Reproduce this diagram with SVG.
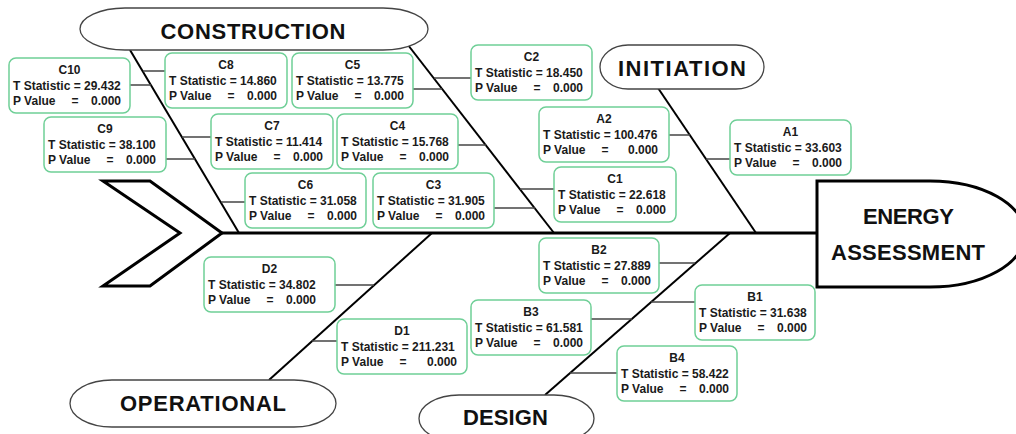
<svg xmlns="http://www.w3.org/2000/svg" width="1016" height="434" viewBox="0 0 1016 434">
<style>
.bone{stroke:#000;stroke-width:2;fill:none}
.tick{stroke:#444;stroke-width:1.5;fill:none}
.box{fill:#fff;stroke:#6fcf97;stroke-width:1.5}
.cat{fill:#fff;stroke:#444;stroke-width:1.3}
.big{font-family:"Liberation Sans",Arial,sans-serif;font-weight:bold;font-size:22px;fill:#111;text-anchor:middle}
.t{font-family:"Liberation Sans",Arial,sans-serif;font-weight:bold;font-size:12px;fill:#1a1a1a}
.m{text-anchor:middle}
.e{text-anchor:end}
</style>
<rect width="1016" height="434" fill="#fff"/>
<g id="connectors">
<line class="bone" x1="130" y1="50" x2="239" y2="233"/>
<line class="bone" x1="408" y1="45" x2="554" y2="233"/>
<line class="bone" x1="658" y1="88" x2="756" y2="233"/>
<line class="bone" x1="269" y1="380" x2="432" y2="233"/>
<line class="bone" x1="545" y1="395" x2="730" y2="233"/>
<line x1="222" y1="233" x2="817" y2="233" stroke="#000" stroke-width="3"/>
<line class="tick" x1="130" y1="85" x2="151" y2="85"/>
<line class="tick" x1="143" y1="71" x2="165" y2="71"/>
<line class="tick" x1="166" y1="159" x2="195" y2="159"/>
<line class="tick" x1="182" y1="137" x2="211" y2="137"/>
<line class="tick" x1="221" y1="202" x2="245" y2="202"/>
<line class="tick" x1="413" y1="89" x2="442" y2="89"/>
<line class="tick" x1="434" y1="78" x2="471" y2="78"/>
<line class="tick" x1="458" y1="145" x2="486" y2="145"/>
<line class="tick" x1="520" y1="189" x2="554" y2="189"/>
<line class="tick" x1="494" y1="208" x2="535" y2="208"/>
<line class="tick" x1="669" y1="135" x2="690" y2="135"/>
<line class="tick" x1="706" y1="159" x2="730" y2="159"/>
<line class="tick" x1="335" y1="285" x2="374" y2="285"/>
<line class="tick" x1="312" y1="341" x2="337" y2="341"/>
<line class="tick" x1="659" y1="263" x2="695" y2="263"/>
<line class="tick" x1="591" y1="319" x2="632" y2="319"/>
<line class="tick" x1="651" y1="302" x2="695" y2="302"/>
<line class="tick" x1="570" y1="373" x2="617" y2="373"/>
</g>
<g id="tail">
<polygon points="103,181 150,181 222,233 150,286 103,286 180,233" fill="#fff" stroke="#000" stroke-width="3" stroke-linejoin="miter"/>
</g>
<g id="head">
<path d="M817,181 H930 A95,53 0 0 1 930,287 H817 Z" fill="#fff" stroke="#000" stroke-width="3"/>
<text class="big" x="908.5" y="224" textLength="91">ENERGY</text>
<text class="big" x="908" y="260" textLength="154">ASSESSMENT</text>
</g>
<g id="construction">
<rect class="cat" x="80" y="8" width="348" height="42" rx="45" ry="21"/>
<text class="big" x="253" y="39" textLength="185">CONSTRUCTION</text>
</g>
<g id="initiation">
<rect class="cat" x="600" y="45" width="164" height="44" rx="28" ry="22"/>
<text class="big" x="682" y="76" textLength="128">INITIATION</text>
</g>
<g id="operational">
<rect class="cat" x="70" y="380" width="266" height="47" rx="42" ry="23.5"/>
<text class="big" x="203" y="411" textLength="166">OPERATIONAL</text>
</g>
<g id="design">
<rect class="cat" x="419" y="395" width="175" height="47" rx="40" ry="23.5"/>
<text class="big" x="505.5" y="425" textLength="85">DESIGN</text>
</g>
<g id="C10"><rect class="box" x="9" y="58" width="121" height="55" rx="7"/><text class="t m" x="69.5" y="74">C10</text><text class="t" x="13" y="89.5">T Statistic = 29.432</text><text class="t" x="13" y="104.5">P Value</text><text class="t m" x="75" y="104.5">=</text><text class="t e" x="121" y="104.5">0.000</text></g>
<g id="C8"><rect class="box" x="165" y="53" width="122" height="55" rx="7"/><text class="t m" x="226" y="69">C8</text><text class="t" x="169" y="84.5">T Statistic = 14.860</text><text class="t" x="169" y="99.5">P Value</text><text class="t m" x="231" y="99.5">=</text><text class="t e" x="277" y="99.5">0.000</text></g>
<g id="C5"><rect class="box" x="292" y="53" width="121" height="55" rx="7"/><text class="t m" x="352.5" y="69">C5</text><text class="t" x="296" y="84.5">T Statistic = 13.775</text><text class="t" x="296" y="99.5">P Value</text><text class="t m" x="358" y="99.5">=</text><text class="t e" x="404" y="99.5">0.000</text></g>
<g id="C9"><rect class="box" x="44" y="117" width="122" height="55" rx="7"/><text class="t m" x="105" y="133">C9</text><text class="t" x="48" y="148.5">T Statistic = 38.100</text><text class="t" x="48" y="163.5">P Value</text><text class="t m" x="110" y="163.5">=</text><text class="t e" x="156" y="163.5">0.000</text></g>
<g id="C7"><rect class="box" x="211" y="114" width="122" height="55" rx="7"/><text class="t m" x="272" y="130">C7</text><text class="t" x="215" y="145.5">T Statistic = 11.414</text><text class="t" x="215" y="160.5">P Value</text><text class="t m" x="277" y="160.5">=</text><text class="t e" x="323" y="160.5">0.000</text></g>
<g id="C4"><rect class="box" x="337" y="114" width="121" height="55" rx="7"/><text class="t m" x="397.5" y="130">C4</text><text class="t" x="341" y="145.5">T Statistic = 15.768</text><text class="t" x="341" y="160.5">P Value</text><text class="t m" x="403" y="160.5">=</text><text class="t e" x="449" y="160.5">0.000</text></g>
<g id="C6"><rect class="box" x="245" y="173" width="121" height="55" rx="7"/><text class="t m" x="305.5" y="189">C6</text><text class="t" x="249" y="204.5">T Statistic = 31.058</text><text class="t" x="249" y="219.5">P Value</text><text class="t m" x="311" y="219.5">=</text><text class="t e" x="357" y="219.5">0.000</text></g>
<g id="C3"><rect class="box" x="373" y="173" width="121" height="55" rx="7"/><text class="t m" x="433.5" y="189">C3</text><text class="t" x="377" y="204.5">T Statistic = 31.905</text><text class="t" x="377" y="219.5">P Value</text><text class="t m" x="439" y="219.5">=</text><text class="t e" x="485" y="219.5">0.000</text></g>
<g id="C2"><rect class="box" x="471" y="45" width="121" height="55" rx="7"/><text class="t m" x="531.5" y="61">C2</text><text class="t" x="475" y="76.5">T Statistic = 18.450</text><text class="t" x="475" y="91.5">P Value</text><text class="t m" x="537" y="91.5">=</text><text class="t e" x="583" y="91.5">0.000</text></g>
<g id="A2"><rect class="box" x="539" y="107" width="130" height="55" rx="7"/><text class="t m" x="604" y="123">A2</text><text class="t" x="543" y="138.5">T Statistic = 100.476</text><text class="t" x="543" y="153.5">P Value</text><text class="t m" x="605" y="153.5">=</text><text class="t e" x="658" y="153.5">0.000</text></g>
<g id="C1"><rect class="box" x="554" y="167" width="122" height="55" rx="7"/><text class="t m" x="615" y="183">C1</text><text class="t" x="558" y="198.5">T Statistic = 22.618</text><text class="t" x="558" y="213.5">P Value</text><text class="t m" x="620" y="213.5">=</text><text class="t e" x="666" y="213.5">0.000</text></g>
<g id="A1"><rect class="box" x="730" y="120" width="121" height="55" rx="7"/><text class="t m" x="790.5" y="136">A1</text><text class="t" x="734" y="151.5">T Statistic = 33.603</text><text class="t" x="734" y="166.5">P Value</text><text class="t m" x="796" y="166.5">=</text><text class="t e" x="842" y="166.5">0.000</text></g>
<g id="D2"><rect class="box" x="204" y="257" width="131" height="55" rx="7"/><text class="t m" x="269.5" y="273">D2</text><text class="t" x="208" y="288.5">T Statistic = 34.802</text><text class="t" x="208" y="303.5">P Value</text><text class="t m" x="270" y="303.5">=</text><text class="t e" x="316" y="303.5">0.000</text></g>
<g id="D1"><rect class="box" x="337" y="319" width="130" height="55" rx="7"/><text class="t m" x="402" y="335">D1</text><text class="t" x="341" y="350.5">T Statistic = 211.231</text><text class="t" x="341" y="365.5">P Value</text><text class="t m" x="403" y="365.5">=</text><text class="t e" x="457" y="365.5">0.000</text></g>
<g id="B2"><rect class="box" x="539" y="238" width="120" height="55" rx="7"/><text class="t m" x="599" y="254">B2</text><text class="t" x="543" y="269.5">T Statistic = 27.889</text><text class="t" x="543" y="284.5">P Value</text><text class="t m" x="605" y="284.5">=</text><text class="t e" x="651" y="284.5">0.000</text></g>
<g id="B3"><rect class="box" x="471" y="300" width="120" height="55" rx="7"/><text class="t m" x="531" y="316">B3</text><text class="t" x="475" y="331.5">T Statistic = 61.581</text><text class="t" x="475" y="346.5">P Value</text><text class="t m" x="537" y="346.5">=</text><text class="t e" x="583" y="346.5">0.000</text></g>
<g id="B1"><rect class="box" x="695" y="285" width="120" height="55" rx="7"/><text class="t m" x="755" y="301">B1</text><text class="t" x="699" y="316.5">T Statistic = 31.638</text><text class="t" x="699" y="331.5">P Value</text><text class="t m" x="761" y="331.5">=</text><text class="t e" x="807" y="331.5">0.000</text></g>
<g id="B4"><rect class="box" x="617" y="346" width="120" height="55" rx="7"/><text class="t m" x="677" y="362">B4</text><text class="t" x="621" y="377.5">T Statistic = 58.422</text><text class="t" x="621" y="392.5">P Value</text><text class="t m" x="683" y="392.5">=</text><text class="t e" x="729" y="392.5">0.000</text></g>
</svg>
